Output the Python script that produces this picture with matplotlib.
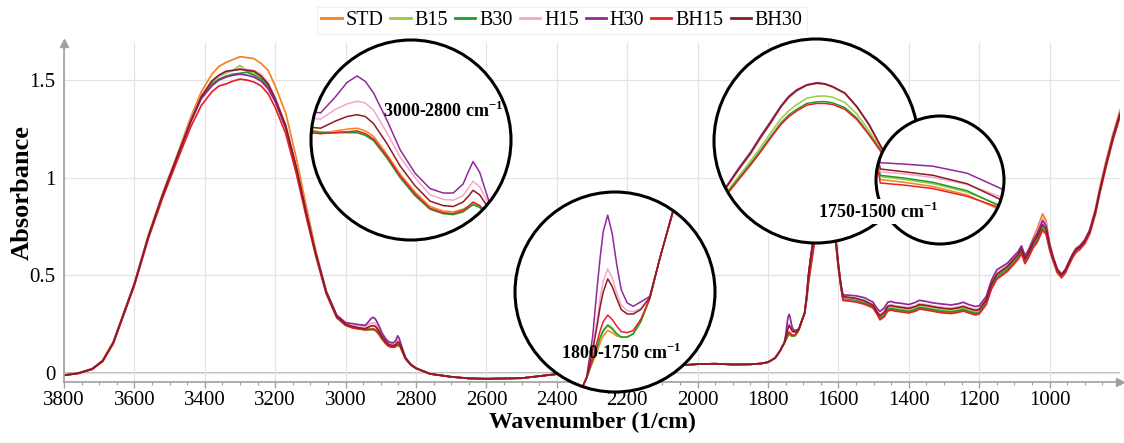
import matplotlib
matplotlib.use("Agg")
import matplotlib.pyplot as plt
from matplotlib.patches import Circle
from matplotlib.ticker import MultipleLocator, FixedLocator

plt.rcParams['font.family'] = ['Liberation Serif', 'DejaVu Serif']
plt.rcParams['mathtext.fontset'] = 'custom'
plt.rcParams['mathtext.rm'] = 'Liberation Serif'
plt.rcParams['mathtext.bf'] = 'Liberation Serif:bold'

# FTIR spectra, wavenumber in 1/cm (descending)
wavenumber = [
    3800, 3760, 3720, 3690, 3660, 3630, 3600, 3560, 3520, 3480,
    3440, 3410, 3380, 3360, 3340, 3320, 3300, 3280, 3260, 3240,
    3220, 3200, 3170, 3140, 3110, 3085, 3055, 3025, 3000, 2980,
    # C-H stretch
    2965, 2955, 2950, 2944, 2935, 2928, 2922, 2917, 2912, 2904,
    2896, 2887, 2878, 2870, 2864, 2858, 2855, 2852, 2848, 2844,
    2840, 2830, 2815, 2800,
    2760, 2700, 2650, 2600, 2500, 2400, 2300, 2200, 2100, 2000,
    1950, 1900, 1850, 1820, 1800, 1780, 1766,
    # C=O
    1758, 1754, 1750, 1747, 1745, 1743, 1740, 1737, 1734, 1731,
    1727, 1723, 1718, 1712,
    # amide / water band
    1705, 1696, 1690, 1685, 1679, 1673, 1668, 1663, 1658, 1654,
    1650, 1645, 1640, 1636, 1632, 1626, 1620, 1614, 1607, 1600,
    1593, 1587, 1570, 1550,
    1526, 1502, 1490,
    # fingerprint
    1482, 1470, 1460, 1450, 1440, 1420, 1400, 1380, 1370, 1350,
    1335, 1320, 1300, 1280, 1260, 1245, 1230, 1210, 1200, 1180,
    1165, 1150, 1135, 1120, 1105, 1090, 1080, 1070, 1060, 1047,
    1035, 1020, 1010, 1000, 990, 978, 966, 955, 945, 934,
    925, 914, 900, 886, 870, 857, 840, 820, 800,
]

std = [
    -0.010, 0.000, 0.022, 0.065, 0.160, 0.310, 0.460, 0.710, 0.920, 1.110,
    1.310, 1.440, 1.530, 1.570, 1.590, 1.605, 1.620, 1.615, 1.610, 1.585,
    1.550, 1.470, 1.330, 1.100, 0.840, 0.630, 0.420, 0.290, 0.250, 0.235,
    0.226, 0.223, 0.222, 0.221, 0.224, 0.226, 0.227, 0.224, 0.218, 0.198,
    0.176, 0.156, 0.140, 0.135, 0.134, 0.137, 0.140, 0.144, 0.141, 0.133,
    0.116, 0.074, 0.042, 0.024,
    -0.005, -0.020, -0.028, -0.030, -0.027, -0.006, 0.008, 0.022, 0.032, 0.045,
    0.047, 0.043, 0.044, 0.048, 0.055, 0.076, 0.112,
    0.140, 0.152, 0.166, 0.176, 0.184, 0.190, 0.195, 0.193, 0.190, 0.189,
    0.189, 0.192, 0.203, 0.224,
    0.262, 0.306, 0.395, 0.498, 0.582, 0.658, 0.735, 0.805, 0.880, 0.928,
    0.960, 0.988, 0.996, 0.992, 0.978, 0.948, 0.883, 0.800, 0.676, 0.552,
    0.450, 0.376, 0.372, 0.366,
    0.354, 0.332, 0.302,
    0.276, 0.292, 0.322, 0.328, 0.323, 0.318, 0.313, 0.323, 0.333, 0.328,
    0.323, 0.318, 0.313, 0.310, 0.316, 0.323, 0.313, 0.303, 0.310, 0.365,
    0.450, 0.500, 0.520, 0.545, 0.580, 0.615, 0.650, 0.600, 0.630, 0.690,
    0.740, 0.815, 0.780, 0.660, 0.590, 0.525, 0.500, 0.525, 0.565, 0.610,
    0.635, 0.650, 0.680, 0.735, 0.840, 0.955, 1.085, 1.225, 1.345,
]

b15 = [
    -0.012, -0.002, 0.020, 0.062, 0.155, 0.305, 0.455, 0.700, 0.910, 1.100,
    1.290, 1.415, 1.490, 1.520, 1.535, 1.550, 1.575, 1.545, 1.535, 1.515,
    1.470, 1.400, 1.260, 1.050, 0.805, 0.612, 0.412, 0.286, 0.246, 0.233,
    0.229, 0.226, 0.225, 0.223, 0.223, 0.223, 0.223, 0.220, 0.214, 0.195,
    0.173, 0.153, 0.138, 0.133, 0.132, 0.135, 0.139, 0.143, 0.140, 0.132,
    0.115, 0.073, 0.041, 0.023,
    -0.005, -0.020, -0.028, -0.030, -0.027, -0.006, 0.008, 0.022, 0.032, 0.045,
    0.047, 0.043, 0.044, 0.048, 0.055, 0.076, 0.112,
    0.140, 0.152, 0.168, 0.180, 0.188, 0.194, 0.199, 0.196, 0.191, 0.189,
    0.189, 0.192, 0.203, 0.224,
    0.262, 0.305, 0.385, 0.475, 0.550, 0.625, 0.690, 0.760, 0.825, 0.865,
    0.895, 0.925, 0.935, 0.936, 0.930, 0.905, 0.850, 0.770, 0.665, 0.545,
    0.448, 0.380, 0.376, 0.370,
    0.358, 0.339, 0.307,
    0.285, 0.300, 0.330, 0.335, 0.330, 0.325, 0.320, 0.330, 0.340, 0.335,
    0.330, 0.325, 0.320, 0.317, 0.323, 0.330, 0.320, 0.310, 0.315, 0.365,
    0.445, 0.495, 0.515, 0.535, 0.565, 0.595, 0.625, 0.575, 0.605, 0.655,
    0.690, 0.750, 0.730, 0.645, 0.585, 0.525, 0.500, 0.525, 0.565, 0.605,
    0.630, 0.645, 0.675, 0.725, 0.825, 0.935, 1.065, 1.205, 1.325,
]

b30 = [
    -0.012, -0.002, 0.020, 0.062, 0.155, 0.305, 0.455, 0.700, 0.910, 1.100,
    1.290, 1.410, 1.480, 1.505, 1.520, 1.530, 1.535, 1.540, 1.525, 1.505,
    1.465, 1.395, 1.255, 1.045, 0.800, 0.610, 0.410, 0.285, 0.245, 0.232,
    0.228, 0.225, 0.224, 0.222, 0.222, 0.222, 0.222, 0.219, 0.213, 0.194,
    0.172, 0.152, 0.137, 0.132, 0.131, 0.134, 0.138, 0.142, 0.139, 0.131,
    0.114, 0.073, 0.041, 0.023,
    -0.005, -0.020, -0.028, -0.030, -0.027, -0.006, 0.008, 0.022, 0.032, 0.045,
    0.047, 0.043, 0.044, 0.048, 0.055, 0.076, 0.112,
    0.140, 0.152, 0.168, 0.180, 0.189, 0.195, 0.200, 0.197, 0.192, 0.189,
    0.189, 0.192, 0.203, 0.224,
    0.262, 0.305, 0.380, 0.468, 0.540, 0.612, 0.675, 0.742, 0.806, 0.845,
    0.872, 0.900, 0.908, 0.909, 0.903, 0.880, 0.830, 0.755, 0.660, 0.540,
    0.445, 0.382, 0.378, 0.372,
    0.360, 0.337, 0.305,
    0.280, 0.295, 0.325, 0.330, 0.325, 0.320, 0.315, 0.325, 0.335, 0.330,
    0.325, 0.320, 0.315, 0.312, 0.318, 0.325, 0.315, 0.305, 0.310, 0.360,
    0.440, 0.490, 0.510, 0.530, 0.560, 0.590, 0.620, 0.570, 0.600, 0.650,
    0.680, 0.740, 0.720, 0.640, 0.580, 0.520, 0.495, 0.520, 0.560, 0.600,
    0.625, 0.640, 0.670, 0.720, 0.820, 0.930, 1.060, 1.200, 1.320,
]

h15 = [
    -0.012, -0.002, 0.020, 0.062, 0.155, 0.305, 0.455, 0.700, 0.910, 1.100,
    1.295, 1.420, 1.495, 1.525, 1.540, 1.550, 1.560, 1.555, 1.550, 1.530,
    1.485, 1.410, 1.270, 1.055, 0.810, 0.618, 0.418, 0.292, 0.252, 0.240,
    0.243, 0.240, 0.2385, 0.237, 0.248, 0.254, 0.257, 0.255, 0.247, 0.222,
    0.195, 0.172, 0.153, 0.148, 0.147, 0.152, 0.160, 0.168, 0.162, 0.148,
    0.128, 0.078, 0.044, 0.025,
    -0.005, -0.020, -0.028, -0.030, -0.027, -0.006, 0.008, 0.022, 0.032, 0.045,
    0.047, 0.043, 0.044, 0.048, 0.055, 0.076, 0.112,
    0.140, 0.152, 0.180, 0.205, 0.225, 0.240, 0.251, 0.243, 0.229, 0.218,
    0.213, 0.212, 0.215, 0.225,
    0.262, 0.307, 0.395, 0.498, 0.582, 0.660, 0.737, 0.807, 0.882, 0.930,
    0.962, 0.988, 0.997, 0.993, 0.980, 0.950, 0.885, 0.800, 0.676, 0.552,
    0.452, 0.387, 0.384, 0.379,
    0.369, 0.351, 0.315,
    0.300, 0.315, 0.345, 0.350, 0.345, 0.340, 0.335, 0.345, 0.355, 0.350,
    0.345, 0.340, 0.335, 0.332, 0.338, 0.345, 0.335, 0.325, 0.330, 0.380,
    0.460, 0.512, 0.532, 0.552, 0.585, 0.615, 0.648, 0.598, 0.628, 0.682,
    0.725, 0.795, 0.765, 0.665, 0.598, 0.535, 0.508, 0.532, 0.572, 0.614,
    0.640, 0.655, 0.684, 0.735, 0.835, 0.945, 1.075, 1.215, 1.335,
]

h30 = [
    -0.012, -0.002, 0.020, 0.062, 0.155, 0.305, 0.455, 0.700, 0.910, 1.100,
    1.285, 1.405, 1.470, 1.500, 1.515, 1.525, 1.530, 1.525, 1.515, 1.495,
    1.455, 1.390, 1.255, 1.048, 0.805, 0.615, 0.418, 0.295, 0.258, 0.252,
    0.248, 0.246, 0.2455, 0.244, 0.262, 0.278, 0.285, 0.279, 0.266, 0.236,
    0.203, 0.177, 0.160, 0.155, 0.155, 0.165, 0.178, 0.190, 0.178, 0.155,
    0.132, 0.080, 0.045, 0.025,
    -0.005, -0.020, -0.028, -0.030, -0.027, -0.006, 0.008, 0.022, 0.032, 0.045,
    0.047, 0.043, 0.044, 0.048, 0.055, 0.076, 0.112,
    0.140, 0.153, 0.190, 0.235, 0.262, 0.285, 0.300, 0.283, 0.255, 0.232,
    0.220, 0.217, 0.221, 0.226,
    0.262, 0.307, 0.400, 0.505, 0.590, 0.668, 0.745, 0.815, 0.888, 0.935,
    0.966, 0.990, 1.000, 0.995, 0.981, 0.950, 0.885, 0.800, 0.676, 0.555,
    0.455, 0.400, 0.398, 0.395,
    0.385, 0.363, 0.330,
    0.315, 0.332, 0.362, 0.366, 0.360, 0.356, 0.350, 0.362, 0.372, 0.366,
    0.360, 0.356, 0.352, 0.348, 0.354, 0.362, 0.350, 0.340, 0.344, 0.392,
    0.475, 0.528, 0.545, 0.562, 0.592, 0.620, 0.650, 0.600, 0.628, 0.680,
    0.715, 0.780, 0.755, 0.660, 0.592, 0.530, 0.505, 0.530, 0.570, 0.610,
    0.636, 0.650, 0.680, 0.730, 0.830, 0.940, 1.070, 1.210, 1.330,
]

bh15 = [
    -0.012, -0.003, 0.018, 0.058, 0.150, 0.298, 0.448, 0.690, 0.895, 1.080,
    1.260, 1.370, 1.440, 1.470, 1.480, 1.495, 1.505, 1.500, 1.490, 1.470,
    1.430, 1.360, 1.225, 1.020, 0.785, 0.600, 0.405, 0.282, 0.243, 0.230,
    0.226, 0.223, 0.222, 0.221, 0.222, 0.223, 0.224, 0.221, 0.215, 0.196,
    0.174, 0.154, 0.138, 0.133, 0.132, 0.136, 0.140, 0.145, 0.141, 0.133,
    0.115, 0.073, 0.041, 0.023,
    -0.005, -0.020, -0.028, -0.030, -0.027, -0.006, 0.008, 0.022, 0.032, 0.045,
    0.047, 0.043, 0.044, 0.048, 0.055, 0.076, 0.112,
    0.140, 0.152, 0.170, 0.185, 0.195, 0.203, 0.209, 0.205, 0.199, 0.194,
    0.193, 0.195, 0.205, 0.224,
    0.262, 0.305, 0.377, 0.462, 0.534, 0.605, 0.668, 0.735, 0.798, 0.836,
    0.864, 0.892, 0.900, 0.900, 0.895, 0.872, 0.823, 0.750, 0.655, 0.535,
    0.440, 0.371, 0.368, 0.363,
    0.352, 0.335, 0.300,
    0.272, 0.287, 0.317, 0.322, 0.317, 0.312, 0.307, 0.317, 0.327, 0.322,
    0.317, 0.312, 0.307, 0.304, 0.310, 0.317, 0.307, 0.297, 0.302, 0.350,
    0.430, 0.480, 0.500, 0.520, 0.550, 0.580, 0.610, 0.560, 0.590, 0.640,
    0.670, 0.730, 0.710, 0.630, 0.572, 0.512, 0.487, 0.512, 0.552, 0.592,
    0.617, 0.632, 0.662, 0.712, 0.812, 0.922, 1.052, 1.192, 1.312,
]

bh30 = [
    -0.012, -0.002, 0.020, 0.062, 0.155, 0.305, 0.455, 0.700, 0.910, 1.100,
    1.290, 1.415, 1.495, 1.525, 1.545, 1.550, 1.555, 1.550, 1.545, 1.520,
    1.480, 1.405, 1.265, 1.052, 0.805, 0.614, 0.414, 0.290, 0.250, 0.238,
    0.232, 0.229, 0.228, 0.227, 0.235, 0.240, 0.242, 0.240, 0.232, 0.210,
    0.185, 0.163, 0.146, 0.141, 0.140, 0.145, 0.151, 0.158, 0.153, 0.142,
    0.122, 0.076, 0.043, 0.024,
    -0.005, -0.020, -0.028, -0.030, -0.027, -0.006, 0.008, 0.022, 0.032, 0.045,
    0.047, 0.043, 0.044, 0.048, 0.055, 0.076, 0.112,
    0.140, 0.152, 0.177, 0.200, 0.217, 0.230, 0.242, 0.235, 0.224, 0.214,
    0.210, 0.210, 0.214, 0.225,
    0.262, 0.306, 0.396, 0.500, 0.584, 0.662, 0.738, 0.808, 0.884, 0.931,
    0.963, 0.988, 0.998, 0.994, 0.980, 0.950, 0.885, 0.800, 0.676, 0.553,
    0.452, 0.391, 0.387, 0.382,
    0.370, 0.347, 0.312,
    0.292, 0.310, 0.340, 0.345, 0.340, 0.335, 0.330, 0.340, 0.350, 0.345,
    0.340, 0.335, 0.330, 0.327, 0.333, 0.340, 0.330, 0.320, 0.325, 0.375,
    0.455, 0.505, 0.525, 0.545, 0.575, 0.605, 0.635, 0.585, 0.615, 0.665,
    0.700, 0.760, 0.738, 0.652, 0.590, 0.528, 0.502, 0.527, 0.567, 0.606,
    0.632, 0.646, 0.676, 0.726, 0.826, 0.936, 1.066, 1.206, 1.326,
]

names = ['STD', 'B15', 'B30', 'H15', 'H30', 'BH15', 'BH30']
colors = ['#f5821f', '#9dcb3c', '#1f9a2f', '#f5a6c9', '#8e2a9b', '#e8202a', '#8b1c24']
spectra = [std, b15, b30, h15, h30, bh15, bh30]

W, H = 1124, 443
fig = plt.figure(figsize=(W / 100, H / 100), dpi=100)


def px_box(x0, y0, x1, y1):
    # pixel box (top-left origin) -> figure fraction rect
    return [x0 / W, 1 - y1 / H, (x1 - x0) / W, (y1 - y0) / H]


ax = fig.add_axes(px_box(64, 43, 1120, 381.7))
for name, col, y in zip(names, colors, spectra):
    ax.plot(wavenumber, y, color=col, lw=1.25, label=name)

ax.set_xlim(3800, 800)
ax.set_ylim(-0.045, 1.69)
ax.xaxis.set_major_locator(FixedLocator(list(range(3800, 999, -200))))
ax.xaxis.set_minor_locator(MultipleLocator(50))
ax.set_yticks([0, 0.5, 1, 1.5])
ax.set_yticklabels(['0', '0.5', '1', '1.5'])
ax.grid(True, color='#e3e3e3', lw=0.9)
ax.axhline(0, color='#b5b5b5', lw=1.3, zorder=0.5)
for s in ['top', 'right']:
    ax.spines[s].set_visible(False)
for s in ['left', 'bottom']:
    ax.spines[s].set_color('#a0a0a0')
    ax.spines[s].set_linewidth(1.2)
ax.tick_params(axis='x', which='major', length=4, width=1, color='#a0a0a0',
               labelsize=15, pad=3)
ax.tick_params(axis='x', which='minor', length=2.5, width=0.8, color='#a0a0a0')
ax.tick_params(axis='y', length=0, labelsize=15, pad=6)
ax.plot([0], [1], marker='^', color='#a0a0a0', ms=6, transform=ax.transAxes, clip_on=False)
ax.plot([1], [0], marker='>', color='#a0a0a0', ms=6, transform=ax.transAxes, clip_on=False)

ax.set_xlabel('Wavenumber (1/cm)', fontsize=17, fontweight='bold', labelpad=1)
ax.set_ylabel('Absorbance', fontsize=19, fontweight='bold')
ax.yaxis.set_label_coords(-0.029, 0.557)


def lens(cx, cy, r, xlim, ylim):
    # circular magnified view of the same spectra
    a = fig.add_axes(px_box(cx - r, cy - r, cx + r, cy + r))
    a.set_xlim(*xlim)
    a.set_ylim(*ylim)
    a.axis('off')
    disk = Circle((0.5, 0.5), 0.5, transform=a.transAxes, facecolor='white',
                  edgecolor='none', zorder=0)
    a.add_patch(disk)
    for col, y in zip(colors, spectra):
        ln, = a.plot(wavenumber, y, color=col, lw=1.1)
        ln.set_clip_path(disk)
    a.add_patch(Circle((0.5, 0.5), 0.5, transform=a.transAxes, facecolor='none',
                       edgecolor='black', lw=2.2, zorder=5, clip_on=False))
    return a


lens(411, 140, 100, (2949.8, 2829.1), (0.1028, 0.325))
lens(615, 292, 100, (1801.8, 1668.5), (0.139, 0.321))
lens(816, 141, 102, (1691.4, 1589.4), (0.229, 1.21))
lens(940, 180, 64, (1590, 1500), (0.2839, 0.4667))

label_kw = dict(fontsize=13, fontweight='bold', ha='center', va='center')
fig.text(443 / W, 1 - 110.7 / H, '3000-2800 cm$^{\\mathbf{-1}}$', **label_kw)
fig.text(621.7 / W, 1 - 353.3 / H, '1800-1750 cm$^{\\mathbf{-1}}$', **label_kw)
fig.text(878 / W, 1 - 211.7 / H, '1750-1500 cm$^{\\mathbf{-1}}$',
         bbox=dict(facecolor='white', edgecolor='none', pad=1.5), **label_kw)

handles, labels = ax.get_legend_handles_labels()
leg = fig.legend(handles, labels, loc='upper center', bbox_to_anchor=(0.5, 1.008),
                 ncol=7, fontsize=14.5, frameon=True, fancybox=False,
                 handlelength=1.0, handletextpad=0.2, columnspacing=0.35,
                 borderpad=0.2)
leg.get_frame().set_edgecolor('#eeeeee')
for ln in leg.get_lines():
    ln.set_linewidth(2)

fig.savefig('out.png', dpi=100)
